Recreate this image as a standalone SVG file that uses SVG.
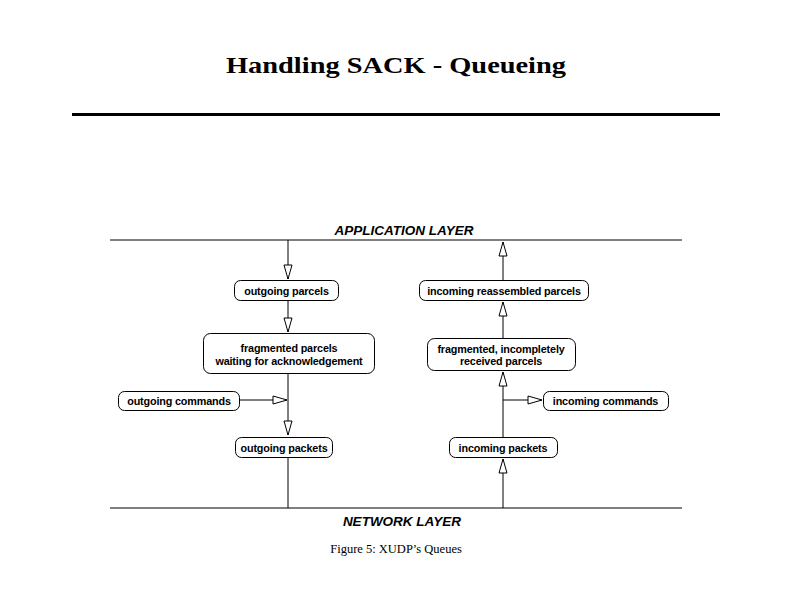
<svg xmlns="http://www.w3.org/2000/svg" width="792" height="612" viewBox="0 0 792 612">
<style>
.ln{stroke:#000;stroke-width:1;fill:none}
.nd{fill:#fff;stroke:#000;stroke-width:1}
.tx{font-family:"Liberation Sans",Arial,sans-serif;font-weight:bold;font-size:10.8px;text-anchor:middle;fill:#000;letter-spacing:-0.15px}
.ly{font-family:"Liberation Sans",Arial,sans-serif;font-weight:bold;font-style:italic;font-size:13.5px;text-anchor:middle;fill:#000}
</style>
<defs>
<marker id="ah" markerWidth="16" markerHeight="10" refX="15" refY="5" orient="auto" markerUnits="userSpaceOnUse">
<path d="M1,1 L15,5 L1,9 Z" fill="#fff" stroke="#000" stroke-width="1"/>
</marker>
</defs>
<rect width="792" height="612" fill="#fff"/>
<text x="396" y="73" font-family="'Liberation Serif','Times New Roman',serif" font-weight="bold" font-size="24" text-anchor="middle" textLength="340" lengthAdjust="spacingAndGlyphs">Handling SACK - Queueing</text>
<rect x="72" y="113" width="648" height="3" fill="#000"/>
<g id="layers">
<line class="ln" x1="110" y1="240" x2="682" y2="240"/>
<text class="ly" x="404" y="235">APPLICATION LAYER</text>
<line class="ln" x1="110" y1="508" x2="682" y2="508"/>
<text class="ly" x="402" y="526">NETWORK LAYER</text>
</g>
<g id="connectors">
<line class="ln" x1="288" y1="240" x2="288" y2="279" marker-end="url(#ah)"/>
<line class="ln" x1="288" y1="300" x2="288" y2="332" marker-end="url(#ah)"/>
<line class="ln" x1="288" y1="373" x2="288" y2="435" marker-end="url(#ah)"/>
<line class="ln" x1="239" y1="400" x2="287" y2="400" marker-end="url(#ah)"/>
<line class="ln" x1="288" y1="457" x2="288" y2="508"/>
<line class="ln" x1="503" y1="508" x2="503" y2="459" marker-end="url(#ah)"/>
<line class="ln" x1="503" y1="437" x2="503" y2="372" marker-end="url(#ah)"/>
<line class="ln" x1="503" y1="400" x2="542" y2="400" marker-end="url(#ah)"/>
<line class="ln" x1="503" y1="338" x2="503" y2="302" marker-end="url(#ah)"/>
<line class="ln" x1="503" y1="280" x2="503" y2="242" marker-end="url(#ah)"/>
</g>
<g id="outgoing-parcels">
<rect class="nd" x="234.5" y="280.5" width="104" height="20" rx="6"/>
<text class="tx" x="286.5" y="294.5">outgoing parcels</text>
</g>
<g id="fragmented-parcels">
<rect class="nd" x="203.5" y="333.5" width="171" height="40" rx="7"/>
<text class="tx" x="289" y="351.5">fragmented parcels</text>
<text class="tx" x="289" y="364.5">waiting for acknowledgement</text>
</g>
<g id="outgoing-commands">
<rect class="nd" x="118.5" y="391.5" width="121" height="19" rx="6"/>
<text class="tx" x="179" y="405">outgoing commands</text>
</g>
<g id="outgoing-packets">
<rect class="nd" x="235.5" y="437.5" width="97" height="20" rx="6"/>
<text class="tx" x="284" y="451.5">outgoing packets</text>
</g>
<g id="incoming-reassembled">
<rect class="nd" x="419.5" y="280.5" width="169" height="20" rx="6"/>
<text class="tx" x="504" y="294.5">incoming reassembled parcels</text>
</g>
<g id="fragmented-incomplete">
<rect class="nd" x="427.5" y="338.5" width="148" height="32" rx="7"/>
<text class="tx" x="501" y="352.5">fragmented, incompletely</text>
<text class="tx" x="501" y="365">received parcels</text>
</g>
<g id="incoming-commands">
<rect class="nd" x="543.5" y="391.5" width="125" height="19" rx="6"/>
<text class="tx" x="605.5" y="405">incoming commands</text>
</g>
<g id="incoming-packets">
<rect class="nd" x="449.5" y="437.5" width="108" height="20" rx="6"/>
<text class="tx" x="503" y="451.5">incoming packets</text>
</g>
<text x="396" y="553" font-family="'Liberation Serif','Times New Roman',serif" font-size="12.5" text-anchor="middle">Figure 5: XUDP’s Queues</text>
</svg>
